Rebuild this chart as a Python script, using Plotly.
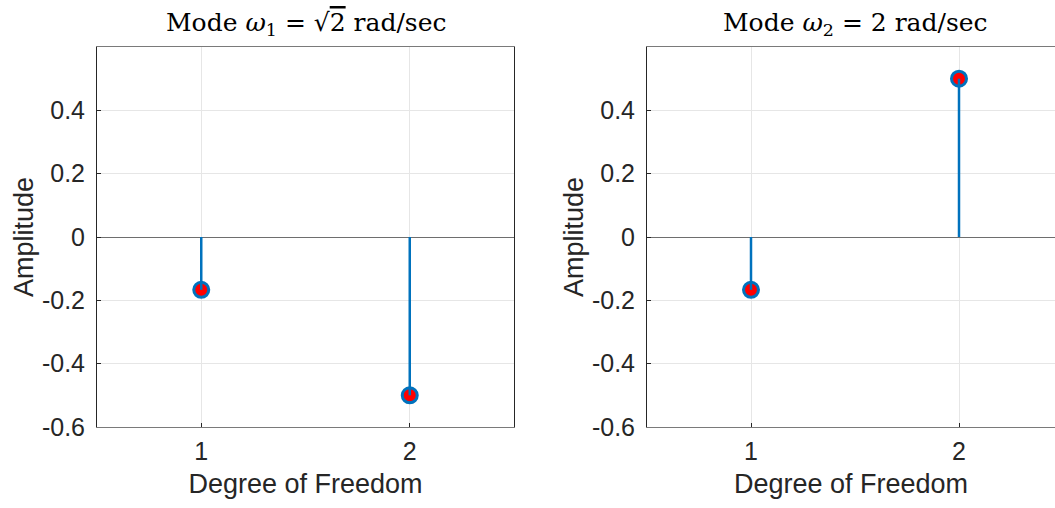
import plotly.graph_objects as go

dof = [1, 2]
mode1 = [-0.1667, -0.5]
mode2 = [-0.1667, 0.5]
titles = ["Mode <i>ω</i><sub>1</sub> = √<span style='text-decoration:overline'>2</span> rad/sec",
          "Mode <i>ω</i><sub>2</sub> = 2 rad/sec"]
yticks = [-0.6, -0.4, -0.2, 0, 0.2, 0.4]
ytick_text = ["-0.6", "-0.4", "-0.2", "0", "0.2", "0.4"]

BLUE = "#0072BD"
DARK = "#262626"
W, H = 1055, 508

fig = go.Figure()

def add_stem(xs, ys, xa, ya):
    fig.add_trace(go.Scatter(x=xs, y=ys, xaxis=xa, yaxis=ya, mode="markers",
                             marker=dict(size=15, color="red", line=dict(color=BLUE, width=3)),
                             showlegend=False, hoverinfo="x+y"))
    sx, sy = [], []
    for x, y in zip(xs, ys):
        sx += [x, x, None]
        sy += [0, y, None]
    fig.add_trace(go.Scatter(x=sx, y=sy, xaxis=xa, yaxis=ya, mode="lines",
                             line=dict(color=BLUE, width=2.5), showlegend=False, hoverinfo="skip"))

add_stem(dof, mode1, "x", "y")
add_stem(dof, mode2, "x2", "y2")

ydom = [(H - 427) / H, (H - 47) / H]
xdom1 = [97 / W, 514 / W]
xdom2 = [647 / W, 1.0]

tickfont = dict(family="Liberation Sans, Arial, sans-serif", size=25, color=DARK)
labelfont = dict(family="Liberation Sans, Arial, sans-serif", size=27, color=DARK)
titlefont = dict(family="DejaVu Serif, Liberation Serif, serif", size=25, color="black")

def xaxis(dom, rng):
    return dict(domain=dom, range=rng, tickvals=dof, ticktext=[str(d) for d in dof],
                showgrid=True, gridcolor="#e6e6e6", gridwidth=1,
                showline=True, mirror=True, linecolor="#7a7a7a", linewidth=1,
                ticks="inside", ticklen=4, tickcolor=DARK, zeroline=False,
                ticklabelstandoff=2, automargin=False,
                tickfont=tickfont, title=dict(text="Degree of Freedom", font=labelfont, standoff=10))

def yaxis(dom, anchor):
    return dict(domain=dom, range=[-0.6, 0.6], tickvals=yticks, ticktext=ytick_text,
                showgrid=True, gridcolor="#e6e6e6", gridwidth=1,
                showline=True, mirror=True, linecolor=DARK, linewidth=1,
                ticks="inside", ticklen=4, tickcolor=DARK, ticklabelstandoff=6,
                zeroline=True, zerolinecolor="#6e6e6e", zerolinewidth=1.3,
                tickfont=tickfont, anchor=anchor, automargin=False,
                title=dict(text="Amplitude", font=labelfont, standoff=0))

fig.update_layout(
    width=W, height=H, margin=dict(l=0, r=0, t=0, b=0, autoexpand=False),
    paper_bgcolor="white", plot_bgcolor="white",
    xaxis=xaxis(xdom1, [0.5, 2.5]),
    yaxis=yaxis(ydom, "x"),
    xaxis2=xaxis(xdom2, [0.5, 1 + (W - 751) / 208]),
    yaxis2=yaxis(ydom, "x2"),
    annotations=[
        dict(text=titles[0], x=(xdom1[0] + xdom1[1]) / 2, y=(H - 24) / H, xref="paper", yref="paper",
             showarrow=False, xanchor="center", yanchor="middle", font=titlefont),
        dict(text=titles[1], x=(647 + 1063) / 2 / W, y=(H - 24) / H, xref="paper", yref="paper",
             showarrow=False, xanchor="center", yanchor="middle", font=titlefont),
    ],
)

fig.write_html("out.html", config={"displayModeBar": False},
               post_script="document.body.style.margin='0';document.body.style.overflow='hidden';")
